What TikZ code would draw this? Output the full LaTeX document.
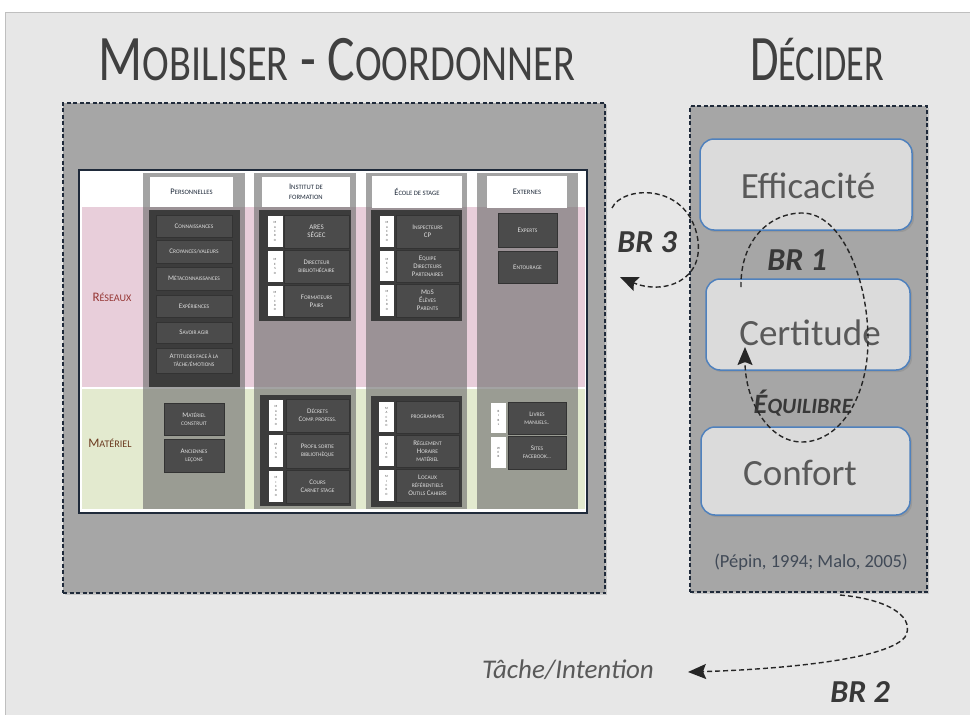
\documentclass[tikz,border=0pt]{standalone}
\usepackage{fontspec}
\setmainfont{Carlito}
\usetikzlibrary{arrows.meta,shadows}

\definecolor{fond}{HTML}{E7E7E7}
\definecolor{cadregris}{HTML}{A6A6A6}
\definecolor{marine}{HTML}{1F2A3A}
\definecolor{rose}{HTML}{E8CEDA}
\definecolor{vert}{HTML}{E3EACF}
\definecolor{sombre}{HTML}{3C3C3C}
\definecolor{itemgris}{HTML}{4B4B4B}
\definecolor{textegris}{HTML}{595959}
\definecolor{bleucadre}{HTML}{4F81BD}
\definecolor{rougeligne}{HTML}{963634}
\definecolor{brunligne}{HTML}{6B3A1F}

% petites capitales simulees
\newcommand\pc[2]{#1\scalebox{0.78}{\MakeUppercase{#2}}}

\tikzset{
  titre/.style={text=black!75, font=\fontsize{58}{60}\selectfont},
  cadre/.style={draw=marine, dash pattern=on 4pt off 2.5pt, line width=1.5pt, fill=cadregris,
    drop shadow={opacity=0.3, shadow xshift=2pt, shadow yshift=-2pt}},
  entete/.style={fill=white, text=marine, align=center,
    font=\fontsize{8.5}{9.5}\selectfont},
  item/.style={fill=itemgris, draw=black!80, text=black!12, align=center,
    font=\fontsize{7}{8}\selectfont},
  cote/.style={fill=white, text=black!70, align=center,
    font=\fontsize{3.2}{4.4}\selectfont},
  ligne/.style={font=\fontsize{13}{14}\selectfont},
  critere/.style={rounded corners=14pt, fill=black!14, draw=bleucadre,
    line width=1.5pt, text=textegris, font=\fontsize{37}{40}\selectfont,
    drop shadow={opacity=0.35, shadow xshift=2pt, shadow yshift=-2pt}},
  br/.style={text=black!78, font=\bfseries\itshape\fontsize{32}{34}\selectfont},
  boucle/.style={-{Stealth[length=18pt,width=15pt,inset=3pt]}, dash pattern=on 5pt off 3pt,
    line width=1.4pt, black!85}
}

\begin{document}
\begin{tikzpicture}[x=1pt, y=-1pt, every node/.style={inner sep=0pt}]
  % fond de la diapositive
  \useasboundingbox (0,0) rectangle (970,715);
  \fill[white] (0,0) rectangle (970,715);
  \draw[fill=fond, draw=black!25] (5,12) rectangle (972,717);

  % titres
  \node[titre] (titremob) at (337,60) {\scalebox{0.89}[1.12]{\pc{M}{obiliser} - \pc{C}{oordonner}}};
  \node[titre] (titredec) at (817,60) {\scalebox{0.8}[1.12]{\pc{D}{écider}}};

  % grands cadres pointilles
  \node[cadre, minimum width=542, minimum height=490] (mobiliser) at (334,348) {};
  \node[cadre, minimum width=237, minimum height=486] (decider) at (808.5,349) {};

  % tableau des ressources
  \draw[draw=marine, line width=1.2pt, fill=white] (79,170) rectangle (587,513);
  \fill[rose] (82,207) rectangle (585,387);
  \fill[vert] (82,389) rectangle (585,509);
  \foreach \xa/\xb in {143/245, 254/356, 366/467, 477/578}
    \fill[black!55, opacity=0.65] (\xa,173) rectangle (\xb,509);

  \node[ligne, text=rougeligne] (reseaux) at (112,297) {\pc{R}{éseaux}};
  \node[ligne, text=brunligne] (materiel) at (110,443) {\pc{M}{atériel}};

  % en-tetes des colonnes
  \node[entete, minimum width=83, minimum height=30] (personnelles) at (191.5,192) {\pc{P}{ersonnelles}};
  \node[entete, minimum width=88, minimum height=30] (institut) at (306,192) {\pc{I}{nstitut de}\\\pc{}{formation}};
  \node[entete, minimum width=90, minimum height=32] (ecole) at (417,192) {\pc{É}{cole de stage}};
  \node[entete, minimum width=80, minimum height=32] (externes) at (527,192) {\pc{E}{xternes}};

  % fonds sombres
  \fill[sombre] (149,210) rectangle (240,387);
  \fill[sombre] (259,210) rectangle (351,321);
  \fill[sombre] (371,210) rectangle (462,321);
  \fill[sombre] (260,395) rectangle (351,506);
  \fill[sombre] (371,396) rectangle (462,507);

  % personnelles - reseaux
  \node[item, minimum width=76, minimum height=22] (connais) at (194,226) {\pc{C}{onnaissances}};
  \node[item, minimum width=76, minimum height=23] (croyances) at (194,251.5) {\pc{C}{royances/valeurs}};
  \node[item, minimum width=76, minimum height=23] (meta) at (194,278.5) {\pc{M}{étaconnaissances}};
  \node[item, minimum width=76, minimum height=22] (experiences) at (194,306) {\pc{E}{xpériences}};
  \node[item, minimum width=76, minimum height=21] (savoir) at (194,332.5) {\pc{S}{avoir agir}};
  \node[item, minimum width=76, minimum height=25] (attitudes) at (194,360.5) {\pc{A}{ttitudes face à la}\\\pc{}{tâche/émotions}};

  % institut - reseaux
  \node[item, minimum width=65, minimum height=33] (ares) at (316.5,231.5) {ARES\\SÉGEC};
  \node[item, minimum width=65, minimum height=33] (directeur) at (316.5,266.5) {\pc{D}{irecteur}\\\pc{}{bibliothécaire}};
  \node[item, minimum width=65, minimum height=32] (formateurs) at (316.5,301) {\pc{F}{ormateurs}\\\pc{P}{airs}};
  \node[cote, minimum width=15, minimum height=31] (ares-c) at (275,231.5) {M\\A\\C\\R\\O};
  \node[cote, minimum width=15, minimum height=31] (directeur-c) at (275,266.5) {M\\E\\S\\O};
  \node[cote, minimum width=15, minimum height=30] (formateurs-c) at (275,301) {M\\I\\C\\R\\O};

  % ecole - reseaux
  \node[item, minimum width=63, minimum height=33] (inspecteurs) at (427.5,231.5) {\pc{I}{nspecteurs}\\CP};
  \node[item, minimum width=63, minimum height=32] (equipe) at (427.5,266) {\pc{E}{quipe}\\\pc{D}{irecteurs}\\\pc{P}{artenaires}};
  \node[item, minimum width=63, minimum height=33] (mds) at (427.5,300.5) {\pc{M}{d}S\\\pc{É}{lèves}\\\pc{P}{arents}};
  \node[cote, minimum width=14, minimum height=31] (inspecteurs-c) at (387,231.5) {M\\A\\C\\R\\O};
  \node[cote, minimum width=14, minimum height=30] (equipe-c) at (387,266) {M\\E\\S\\O};
  \node[cote, minimum width=14, minimum height=31] (mds-c) at (387,300.5) {M\\I\\C\\R\\O};

  % externes - reseaux
  \node[item, minimum width=59, minimum height=34] (experts) at (527.5,230) {\pc{E}{xperts}};
  \node[item, minimum width=59, minimum height=32] (entourage) at (527.5,267) {\pc{E}{ntourage}};

  % personnelles - materiel
  \node[item, minimum width=60, minimum height=32] (construit) at (194,419) {\pc{M}{atériel}\\\pc{}{construit}};
  \node[item, minimum width=60, minimum height=33] (anciennes) at (194,455.5) {\pc{A}{nciennes}\\\pc{}{leçons}};

  % institut - materiel
  \node[item, minimum width=63, minimum height=33] (decrets) at (317.5,415.5) {\pc{D}{écrets}\\\pc{C}{omp. profess.}};
  \node[item, minimum width=63, minimum height=34] (profil) at (317.5,451) {\pc{P}{rofil sortie}\\\pc{}{bibliothèque}};
  \node[item, minimum width=63, minimum height=33] (cours) at (317.5,486.5) {\pc{C}{ours}\\\pc{C}{arnet stage}};
  \node[cote, minimum width=14, minimum height=31] (decrets-c) at (276,415.5) {M\\A\\C\\R\\O};
  \node[cote, minimum width=14, minimum height=32] (profil-c) at (276,451) {M\\E\\S\\O};
  \node[cote, minimum width=14, minimum height=31] (cours-c) at (276,486.5) {M\\I\\C\\R\\O};

  % ecole - materiel
  \node[item, minimum width=63, minimum height=32] (programmes) at (427.5,417) {\pc{}{programmes}};
  \node[item, minimum width=63, minimum height=32] (reglement) at (427.5,451) {\pc{R}{èglement}\\\pc{H}{oraire}\\\pc{}{matériel}};
  \node[item, minimum width=63, minimum height=33] (locaux) at (427.5,485.5) {\pc{L}{ocaux}\\\pc{}{référentiels}\\\pc{O}{utils} \pc{C}{ahiers}};
  \node[cote, minimum width=15, minimum height=30] (programmes-c) at (386.5,417) {M\\A\\C\\R\\O};
  \node[cote, minimum width=15, minimum height=30] (reglement-c) at (386.5,451) {M\\E\\S\\O};
  \node[cote, minimum width=15, minimum height=31] (locaux-c) at (386.5,485.5) {M\\I\\C\\R\\O};

  % externes - materiel
  \node[item, minimum width=58, minimum height=32] (livres) at (537,418) {\pc{L}{ivres}\\\pc{}{manuels..}};
  \node[item, minimum width=58, minimum height=33] (sites) at (537,452.5) {\pc{S}{ites}\\\pc{}{facebook...}};
  \node[cote, minimum width=15, minimum height=30] (livres-c) at (498.5,418) {B\\I\\B\\L};
  \node[cote, minimum width=15, minimum height=31] (sites-c) at (498.5,452.5) {W\\E\\B};

  % criteres de decision
  \node[critere, minimum width=212, minimum height=91] (efficacite) at (806,184.5) {};
  \node[text=textegris, font=\fontsize{37}{40}\selectfont] (efficacite-t) at (808,186) {Efficacité};
  \node[critere, minimum width=204, minimum height=91] (certitude) at (808,324.5) {};
  \node[text=textegris, font=\fontsize{37}{40}\selectfont] (certitude-t) at (810,333) {Certitude};
  \node[critere, minimum width=209, minimum height=88] (confort) at (805.5,471) {};
  \node[text=textegris, font=\fontsize{37}{40}\selectfont] (confort-t) at (800,473) {Confort};
  \node[text=marine!85, font=\fontsize{18.5}{20}\selectfont] (source) at (811,562) {(Pépin, 1994; Malo, 2005)};

  % boucles de regulation
  \node[br] (br3) at (647,242) {BR 3};
  \node[br] (br1) at (797,260) {BR 1};
  \node[br] (br2) at (860,692) {BR 2};
  \node[br, font=\bfseries\itshape\fontsize{28}{30}\selectfont] (equilibre) at (803,403) {\pc{É}{quilibre}};
  \node[text=textegris, font=\itshape\fontsize{27}{29}\selectfont] (tache) at (568,670) {Tâche/Intention};

  \coordinate (br3a) at (612,208);
  \coordinate (br3b) at (620,277);
  \coordinate (br1a) at (741,287);
  \coordinate (br1b) at (745,347);
  \coordinate (br2a) at (840,595);
  \coordinate (br2b) at (688,672);

  \draw[boucle] (br3a) .. controls (622,186) and (685,182) .. (697,235)
    .. controls (707,282) and (662,295) .. (br3b);
  \draw[boucle] (br1a) .. controls (740,240) and (770,213) .. (802,213)
    .. controls (842,213) and (868,280) .. (868,340)
    .. controls (868,400) and (838,442) .. (802,442)
    .. controls (768,442) and (745,400) .. (br1b);
  \draw[boucle] (br2a) .. controls (895,600) and (915,620) .. (905,637)
    .. controls (885,662) and (760,670) .. (br2b);
\end{tikzpicture}
\end{document}
